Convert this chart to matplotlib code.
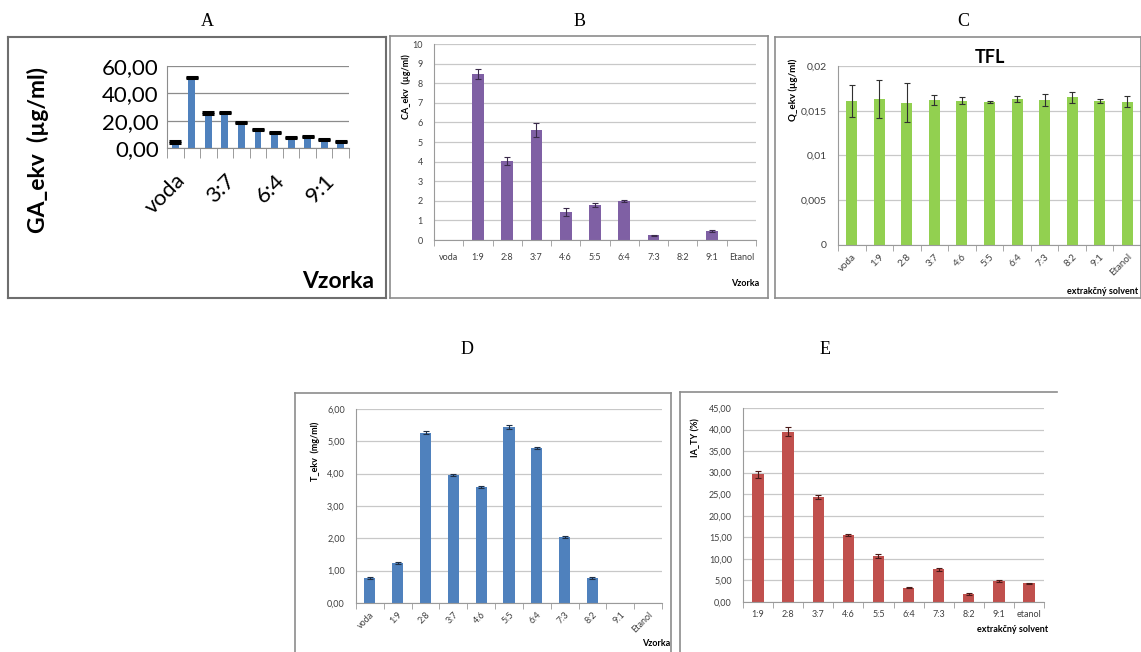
import matplotlib.pyplot as plt
from matplotlib.lines import Line2D
from matplotlib.ticker import FixedLocator

W, H = 1141, 652
plt.rcParams['font.family'] = ['Lato', 'DejaVu Sans']

# --- data ---
cats_a = ["voda", "1:9", "2:8", "3:7", "4:6", "5:5", "6:4", "7:3", "8:2", "9:1", "Etanol"]
vals_a = [4.0, 51.0, 25.0, 25.5, 18.0, 13.0, 11.0, 7.5, 8.0, 6.0, 4.5]
err_a = [1.0, 1.0, 1.0, 1.0, 1.0, 0.8, 0.8, 0.6, 0.8, 0.8, 0.8]

cats_b = ["voda", "1:9", "2:8", "3:7", "4:6", "5:5", "6:4", "7:3", "8:2", "9:1", "Etanol"]
vals_b = [0, 8.45, 4.05, 5.6, 1.42, 1.8, 2.0, 0.25, 0, 0.45, 0]
err_b = [0, 0.25, 0.2, 0.35, 0.22, 0.1, 0.06, 0.03, 0, 0.04, 0]

cats_c = ["voda", "1:9", "2:8", "3:7", "4:6", "5:5", "6:4", "7:3", "8:2", "9:1", "Etanol"]
vals_c = [0.0161, 0.0163, 0.0159, 0.0162, 0.0161, 0.0160, 0.0163, 0.0162, 0.0165, 0.0161, 0.0160]
err_c = [0.0018, 0.0021, 0.0022, 0.0006, 0.0004, 0.0001, 0.0003, 0.0007, 0.0006, 0.0002, 0.0006]

cats_d = ["voda", "1:9", "2:8", "3:7", "4:6", "5:5", "6:4", "7:3", "8:2", "9:1", "Etanol"]
vals_d = [0.77, 1.25, 5.27, 3.95, 3.58, 5.45, 4.80, 2.03, 0.77, 0, 0]
err_d = [0.02, 0.03, 0.04, 0.03, 0.03, 0.06, 0.03, 0.03, 0.02, 0, 0]

cats_e = ["1:9", "2:8", "3:7", "4:6", "5:5", "6:4", "7:3", "8:2", "9:1", "etanol"]
vals_e = [29.6, 39.5, 24.3, 15.5, 10.6, 3.3, 7.6, 1.9, 4.8, 4.3]
err_e = [0.8, 1.0, 0.5, 0.3, 0.5, 0.1, 0.3, 0.2, 0.2, 0.2]

fig = plt.figure(figsize=(W / 100, H / 100), dpi=100)


def px_axes(x0, y0, x1, y1):
    return fig.add_axes([x0 / W, 1 - y1 / H, (x1 - x0) / W, (y1 - y0) / H])


def ftext(x, y, s, **kw):
    fig.text(x / W, 1 - y / H, s, **kw)


def box(x0, y0, x1, y1, color="#8c8c8c", lw=1.2, sides="ltrb"):
    pts = {"l": ((x0, x0), (y0, y1)), "r": ((x1, x1), (y0, y1)),
           "t": ((x0, x1), (y0, y0)), "b": ((x0, x1), (y1, y1))}
    for s in sides:
        xs, ys = pts[s]
        fig.add_artist(Line2D([x / W for x in xs], [1 - y / H for y in ys],
                              color=color, lw=lw, transform=fig.transFigure))


def style(ax, n, grid_color="#c8c8c8", spine="#9a9a9a"):
    ax.set_xlim(-0.5, n - 0.5)
    for s in ["top", "right"]:
        ax.spines[s].set_visible(False)
    ax.spines["left"].set_color(spine)
    ax.spines["bottom"].set_color(spine)
    ax.yaxis.grid(True, color=grid_color, lw=0.9)
    ax.set_axisbelow(True)
    ax.xaxis.set_minor_locator(FixedLocator([i - 0.5 for i in range(n + 1)]))
    ax.tick_params(axis="x", which="major", length=0, colors="#404040")
    ax.tick_params(axis="x", which="minor", length=4, color=spine)
    ax.tick_params(axis="y", length=4, color=spine, colors="#404040")
    ax.set_facecolor("none")


def comma(fmt):
    return lambda v: fmt.format(v).replace(".", ",")


# panel letters
for x, y, s in [(207, 22, "A"), (580, 22, "B"), (963, 22, "C"), (467, 350, "D"), (825, 350, "E")]:
    ftext(x, y, s, family="Liberation Serif", fontsize=13, ha="center", va="center")

# ---------------- A ----------------
box(8, 37, 386, 298, color="#6e6e6e", lw=1.5)
ax = px_axes(167, 66, 349, 148)
n = len(cats_a)
ax.bar(range(n), vals_a, width=0.42, color="#4f81bd", zorder=2)
ax.errorbar(range(n), vals_a, yerr=[[0] * n, err_a], fmt="none", ecolor="black",
            elinewidth=1, capsize=4.2, capthick=2.2, zorder=3)
style(ax, n, grid_color="#8c8c8c", spine="#8c8c8c")
ax.set_ylim(0, 60)
ax.set_yticks([0, 20, 40, 60])
ax.set_yticklabels([comma("{:.2f}")(v) for v in [0, 20, 40, 60]], fontsize=16, color="black")
ax.tick_params(axis="y", length=0, pad=6)
ax.tick_params(axis="x", which="minor", length=7)
ax.set_xticks([0, 3, 6, 9])
ax.set_xticklabels([cats_a[i] for i in [0, 3, 6, 9]], rotation=45, ha="right",
                   rotation_mode="anchor", fontsize=16, color="black")
ax.tick_params(axis="x", which="major", pad=16)
ftext(38, 150, "GA_ekv  (µg/ml)", rotation=90, fontsize=16.5, fontweight="bold",
      ha="center", va="center")
ftext(338, 281, "Vzorka", fontsize=16.5, fontweight="bold", ha="center", va="center")

# ---------------- B ----------------
box(390, 36, 768, 298)
ax = px_axes(434, 44, 756, 240)
n = len(cats_b)
ax.bar(range(n), vals_b, width=0.4, color="#7f60a4", zorder=2)
ax.errorbar([i for i in range(n) if vals_b[i] > 0], [v for v in vals_b if v > 0],
            yerr=[e for v, e in zip(vals_b, err_b) if v > 0], fmt="none",
            ecolor="#3a2a4a", elinewidth=0.8, capsize=2.5, capthick=0.8, zorder=3)
style(ax, n)
ax.set_ylim(0, 10)
ax.set_yticks(range(11))
ax.tick_params(axis="y", labelsize=6.5, length=0, pad=8)
ax.set_xticks(range(n))
ax.set_xticklabels(cats_b, fontsize=6.5)
ax.tick_params(axis="x", which="major", pad=9)
ftext(406, 87, "CA_ekv  (µg/ml)", rotation=90, fontsize=6.5, fontweight="bold",
      ha="center", va="center")
ftext(745, 283, "Vzorka", fontsize=6.5, fontweight="bold", ha="center", va="center")

# ---------------- C ----------------
box(775, 37, 1141, 298)
ax = px_axes(838, 66, 1141, 245)
n = len(cats_c)
ax.bar(range(n), vals_c, width=0.4, color="#92d050", zorder=2)
ax.errorbar(range(n), vals_c, yerr=err_c, fmt="none", ecolor="#303030",
            elinewidth=0.8, capsize=2.5, capthick=0.8, zorder=3)
style(ax, n)
ax.set_ylim(0, 0.02)
ax.set_yticks([0, 0.005, 0.01, 0.015, 0.02])
ax.set_yticklabels(["0", "0,005", "0,01", "0,015", "0,02"])
ax.tick_params(axis="y", labelsize=7.5, length=0, pad=8)
ax.set_xticks(range(n))
ax.set_xticklabels(cats_c, rotation=45, ha="right", rotation_mode="anchor", fontsize=7)
ax.tick_params(axis="x", which="major", pad=5)
ax.set_title("TFL", fontsize=13, fontweight="bold", pad=2)
ftext(793, 90, "Q_ekv (µg/ml)", rotation=90, fontsize=7, fontweight="bold",
      ha="center", va="center")
ftext(1103, 291, "extrakčný solvent", fontsize=6.5, fontweight="bold", ha="center", va="center")

# ---------------- D ----------------
box(295, 393, 671, 660, sides="ltr")
ax = px_axes(356, 409, 662, 603)
n = len(cats_d)
ax.bar(range(n), vals_d, width=0.4, color="#4f81bd", zorder=2)
ax.errorbar([i for i in range(n) if vals_d[i] > 0], [v for v in vals_d if v > 0],
            yerr=[e for v, e in zip(vals_d, err_d) if v > 0], fmt="none",
            ecolor="#1f2f45", elinewidth=0.8, capsize=2.5, capthick=0.8, zorder=3)
style(ax, n)
ax.set_ylim(0, 6)
ax.set_yticks(range(7))
ax.set_yticklabels([comma("{:.2f}")(v) for v in range(7)])
ax.tick_params(axis="y", labelsize=6.5, length=0, pad=8)
ax.set_xticks(range(n))
ax.set_xticklabels(cats_d, rotation=45, ha="right", rotation_mode="anchor", fontsize=6.5)
ax.tick_params(axis="x", which="major", pad=5)
ftext(315, 451, "T_ekv  (mg/ml)", rotation=90, fontsize=6.5, fontweight="bold",
      ha="center", va="center")
ftext(656, 644, "Vzorka", fontsize=6.5, fontweight="bold", ha="center", va="center")

# ---------------- E ----------------
box(680, 392, 1057, 660, sides="lt")
ax = px_axes(743, 408, 1044, 602)
n = len(cats_e)
ax.bar(range(n), vals_e, width=0.38, color="#c0504d", zorder=2)
ax.errorbar(range(n), vals_e, yerr=err_e, fmt="none", ecolor="#4a1a18",
            elinewidth=0.8, capsize=2.5, capthick=0.8, zorder=3)
style(ax, n)
ax.set_ylim(0, 45)
ax.set_yticks(range(0, 46, 5))
ax.set_yticklabels([comma("{:.2f}")(v) for v in range(0, 46, 5)])
ax.tick_params(axis="y", labelsize=6.5, length=0, pad=8)
ax.set_xticks(range(n))
ax.set_xticklabels(cats_e, fontsize=6.5)
ax.tick_params(axis="x", which="major", pad=6)
ftext(695, 438, "IA_TY (%)", rotation=90, fontsize=6.5, fontweight="bold",
      ha="center", va="center")
ftext(1013, 630, "extrakčný solvent", fontsize=6.5, fontweight="bold", ha="center", va="center")

fig.savefig("out.png", dpi=100, facecolor="white")
